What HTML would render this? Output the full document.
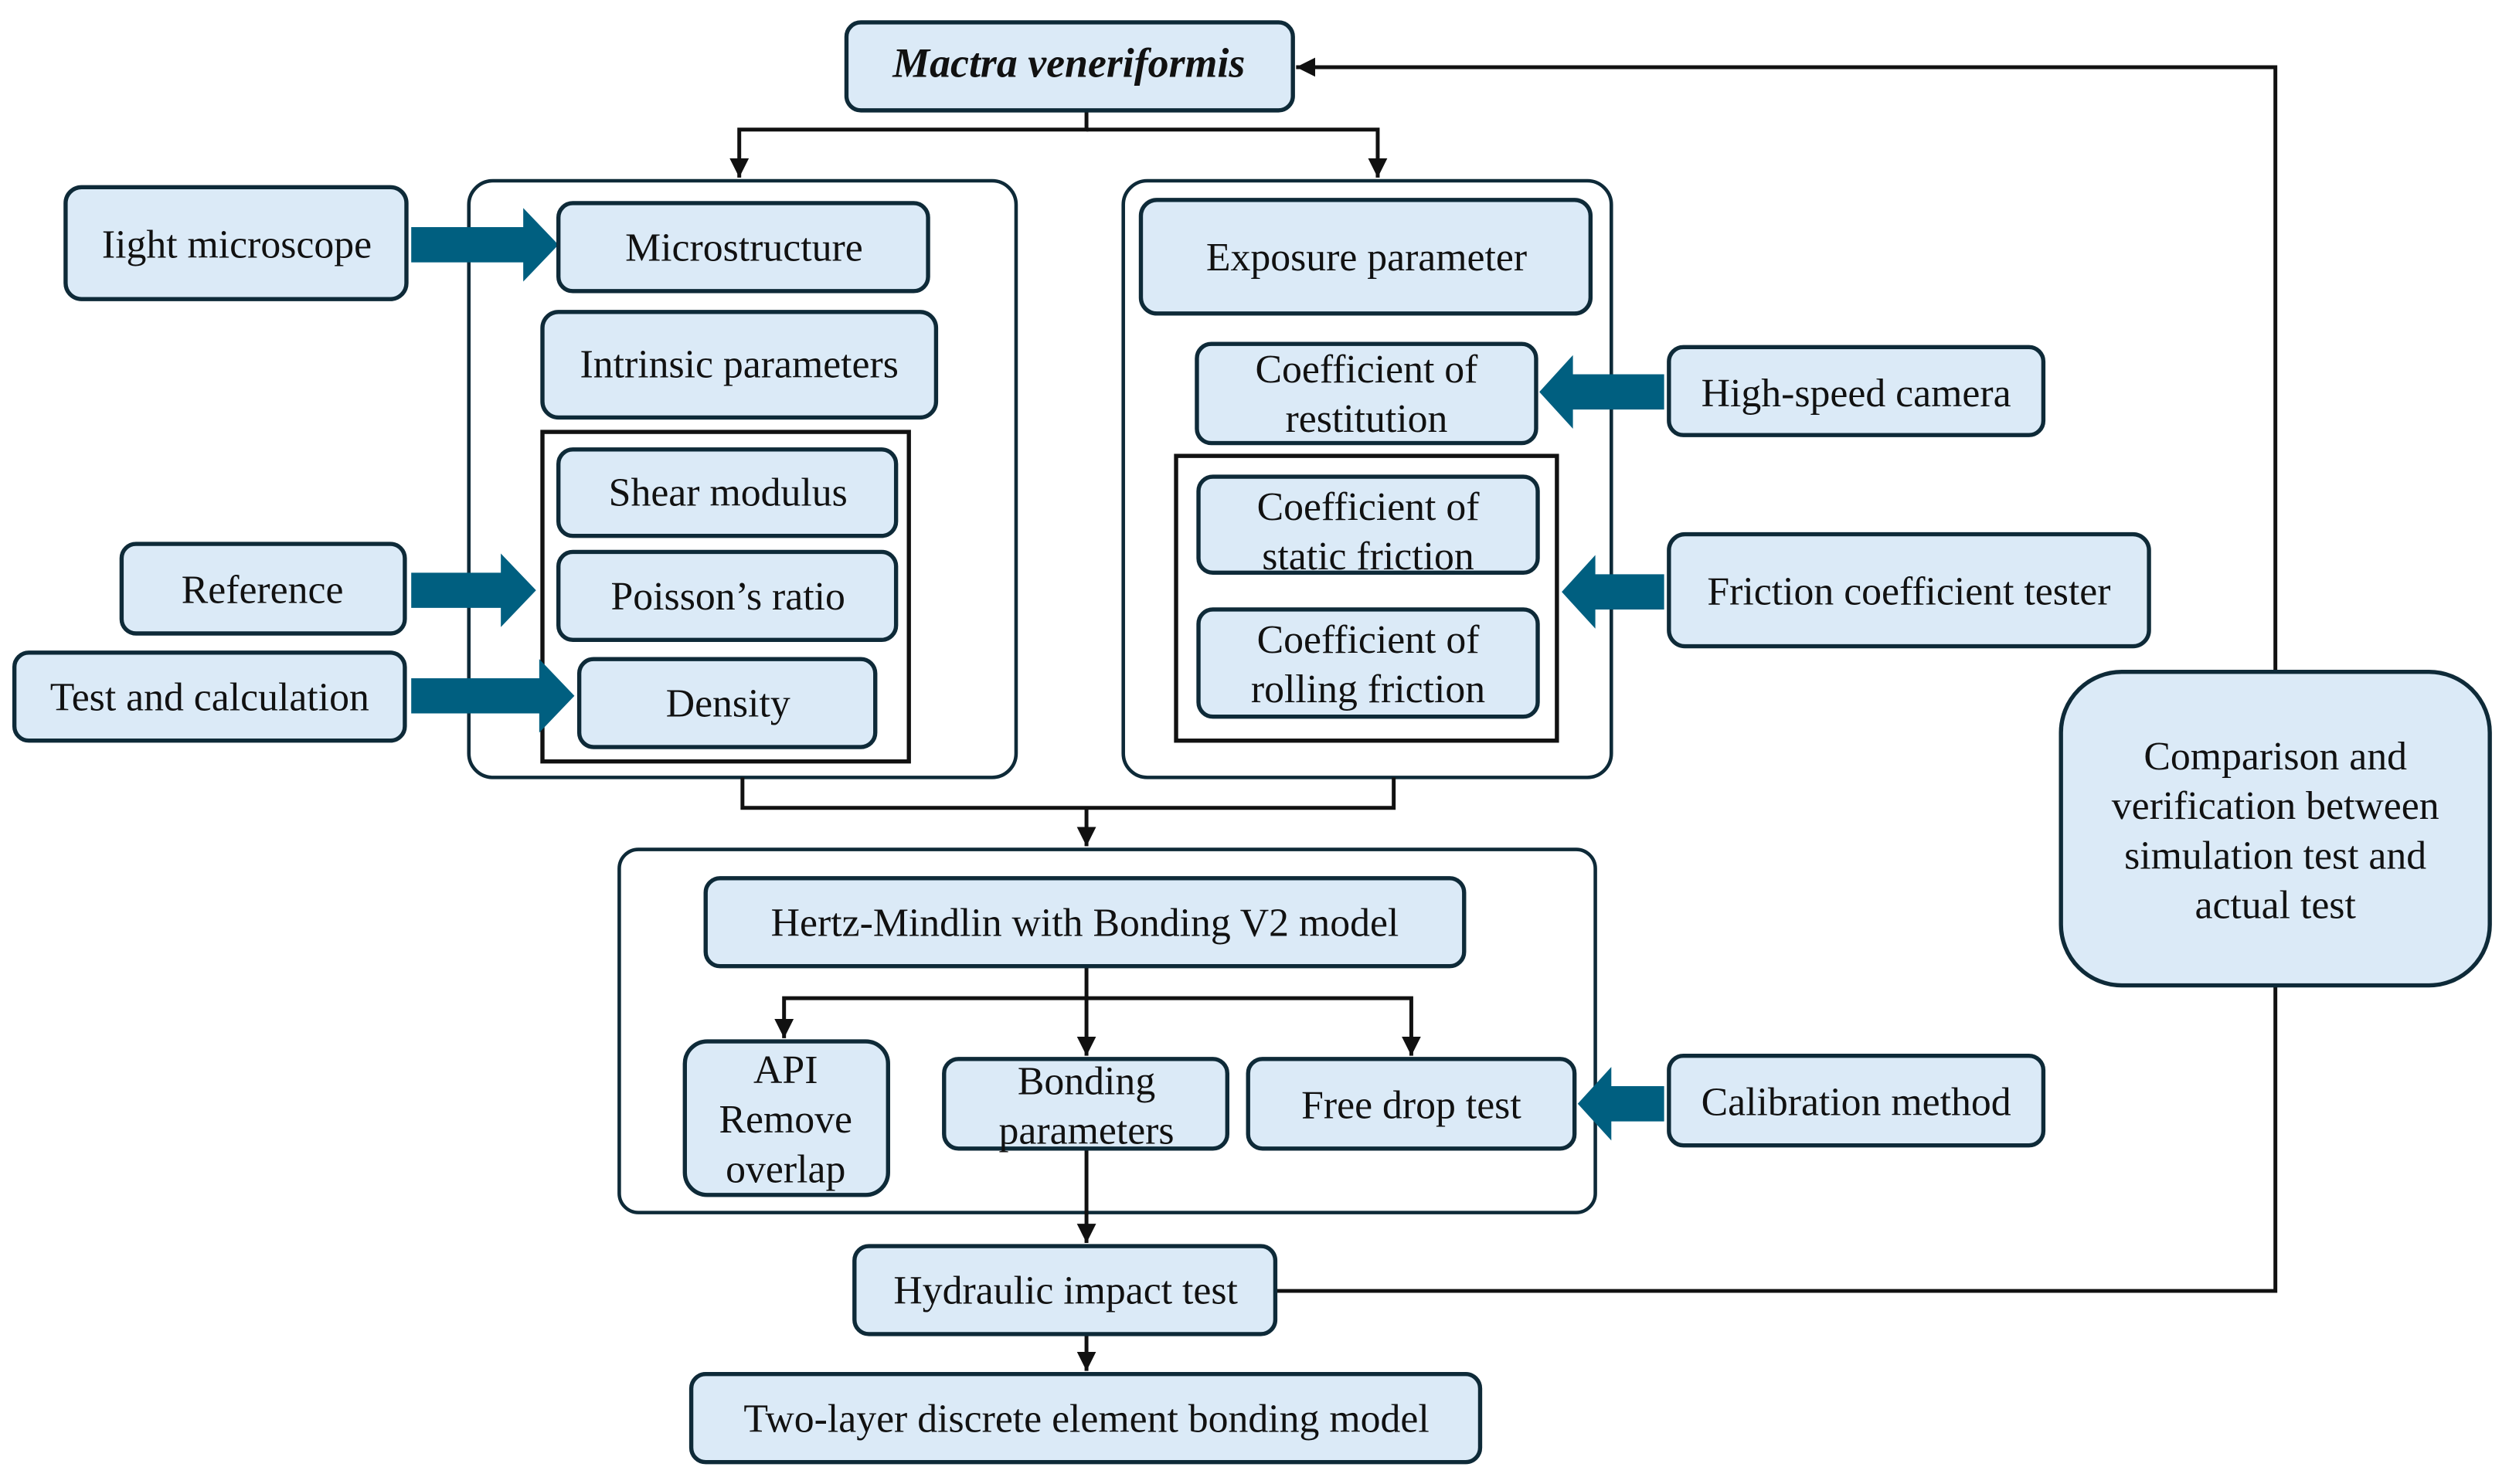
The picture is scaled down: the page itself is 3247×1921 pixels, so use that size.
<!DOCTYPE html>
<html><head><meta charset="utf-8"><style>
html,body{margin:0;padding:0;background:#fff;}
svg{display:block;}
text{font-family:"Liberation Serif","Times New Roman",serif;font-size:25px;fill:#111;text-anchor:middle;}
.b{fill:#dbeaf7;stroke:#0e2a38;stroke-width:2.6;}
.c{fill:#fff;stroke:#0e2a38;stroke-width:2.2;}
.r{fill:none;stroke:#111;stroke-width:2.6;}
.l{fill:none;stroke:#111;stroke-width:2.4;}
.t{fill:#005f80;}
</style></head><body>
<svg width="3247" height="1921" viewBox="0 0 1568 927.7" preserveAspectRatio="none" xmlns="http://www.w3.org/2000/svg">
<defs>
<marker id="m" viewBox="0 0 12 12" refX="12" refY="6" markerWidth="12" markerHeight="14" orient="auto" markerUnits="userSpaceOnUse"><path d="M0,0L12,6L0,12z" fill="#111"/></marker></defs>

<rect class="c" x="293" y="113" width="342" height="373" rx="15"/>
<rect class="c" x="702" y="113" width="305" height="373" rx="15"/>
<rect class="c" x="387" y="531" width="610" height="227" rx="12"/>
<rect class="r" x="339" y="270" width="229" height="206"/>
<rect class="r" x="735" y="285" width="238" height="178"/>

<g class="l">
<path d="M679,69V81H462V111" marker-end="url(#m)"/>
<path d="M679,81H861V111" marker-end="url(#m)"/>
<path d="M464,486V505H871V486"/>
<path d="M679,505V529" marker-end="url(#m)"/>
<path d="M679,604V660" marker-end="url(#m)"/>
<path d="M679,624H490V649" marker-end="url(#m)"/>
<path d="M679,624H882V660" marker-end="url(#m)"/>
<path d="M679,718V777" marker-end="url(#m)"/>
<path d="M679,834V857" marker-end="url(#m)"/>
<path d="M797,807H1422V616"/>
<path d="M1422,420V42H810" marker-end="url(#m)"/>
</g>

<path class="t" d="M257,142H327V130L349,153L327,176V164H257z"/>
<path class="t" d="M257,358H313V346L335,369L313,392V380H257z"/>
<path class="t" d="M257,424H337V412L359,435L337,458V446H257z"/>
<path class="t" d="M1040,234H983V222L962,245L983,268V256H1040z"/>
<path class="t" d="M1040,359H997V347L976,370L997,393V381H1040z"/>
<path class="t" d="M1040,679H1007V667L986,690L1007,713V701H1040z"/>

<rect class="b" x="529" y="14" width="279" height="55" rx="9"/>
<text x="668" y="48" style="font-style:italic;font-weight:bold;font-size:26px">Mactra veneriformis</text>

<rect class="b" x="41" y="117" width="213" height="70" rx="10"/><text x="148" y="161">Iight microscope</text>
<rect class="b" x="76" y="340" width="177" height="56" rx="9"/><text x="164" y="377">Reference</text>
<rect class="b" x="9" y="408" width="244" height="55" rx="9"/><text x="131" y="444">Test and calculation</text>

<rect class="b" x="349" y="127" width="231" height="55" rx="9"/><text x="465" y="163">Microstructure</text>
<rect class="b" x="339" y="195" width="246" height="66" rx="10"/><text x="462" y="236">Intrinsic parameters</text>
<rect class="b" x="349" y="281" width="211" height="54" rx="9"/><text x="455" y="316">Shear modulus</text>
<rect class="b" x="349" y="345" width="211" height="55" rx="9"/><text x="455" y="381">Poisson’s ratio</text>
<rect class="b" x="362" y="412" width="185" height="55" rx="9"/><text x="455" y="448">Density</text>

<rect class="b" x="713" y="125" width="281" height="71" rx="10"/><text x="854" y="169">Exposure parameter</text>
<rect class="b" x="748" y="215" width="212" height="62" rx="9"/><text x="854" y="239">Coefficient of</text><text x="854" y="270">restitution</text>
<rect class="b" x="749" y="298" width="212" height="60" rx="9"/><text x="855" y="325">Coefficient of</text><text x="855" y="356">static friction</text>
<rect class="b" x="749" y="381" width="212" height="67" rx="9"/><text x="855" y="408">Coefficient of</text><text x="855" y="439">rolling friction</text>

<rect class="b" x="1043" y="217" width="234" height="55" rx="9"/><text x="1160" y="254">High-speed camera</text>
<rect class="b" x="1043" y="334" width="300" height="70" rx="10"/><text x="1193" y="378">Friction coefficient tester</text>
<rect class="b" x="1043" y="660" width="234" height="56" rx="9"/><text x="1160" y="697">Calibration method</text>

<rect class="b" x="1288" y="420" width="268" height="196" rx="38"/>
<text x="1422" y="481">Comparison and</text><text x="1422" y="512">verification between</text><text x="1422" y="543">simulation test and</text><text x="1422" y="574">actual test</text>

<rect class="b" x="441" y="549" width="474" height="55" rx="9"/><text x="678" y="585">Hertz-Mindlin with Bonding V2 model</text>
<rect class="b" x="428" y="651" width="127" height="96" rx="14"/><text x="491" y="677">API</text><text x="491" y="708">Remove</text><text x="491" y="739">overlap</text>
<rect class="b" x="590" y="662" width="177" height="56" rx="9"/><text x="679" y="684">Bonding</text><text x="679" y="715">parameters</text>
<rect class="b" x="780" y="662" width="204" height="56" rx="9"/><text x="882" y="699">Free drop test</text>

<rect class="b" x="534" y="779" width="263" height="55" rx="9"/><text x="666" y="815">Hydraulic impact test</text>
<rect class="b" x="432" y="859" width="493" height="55" rx="9"/><text x="679" y="895">Two-layer discrete element bonding model</text>
</svg>
</body></html>
